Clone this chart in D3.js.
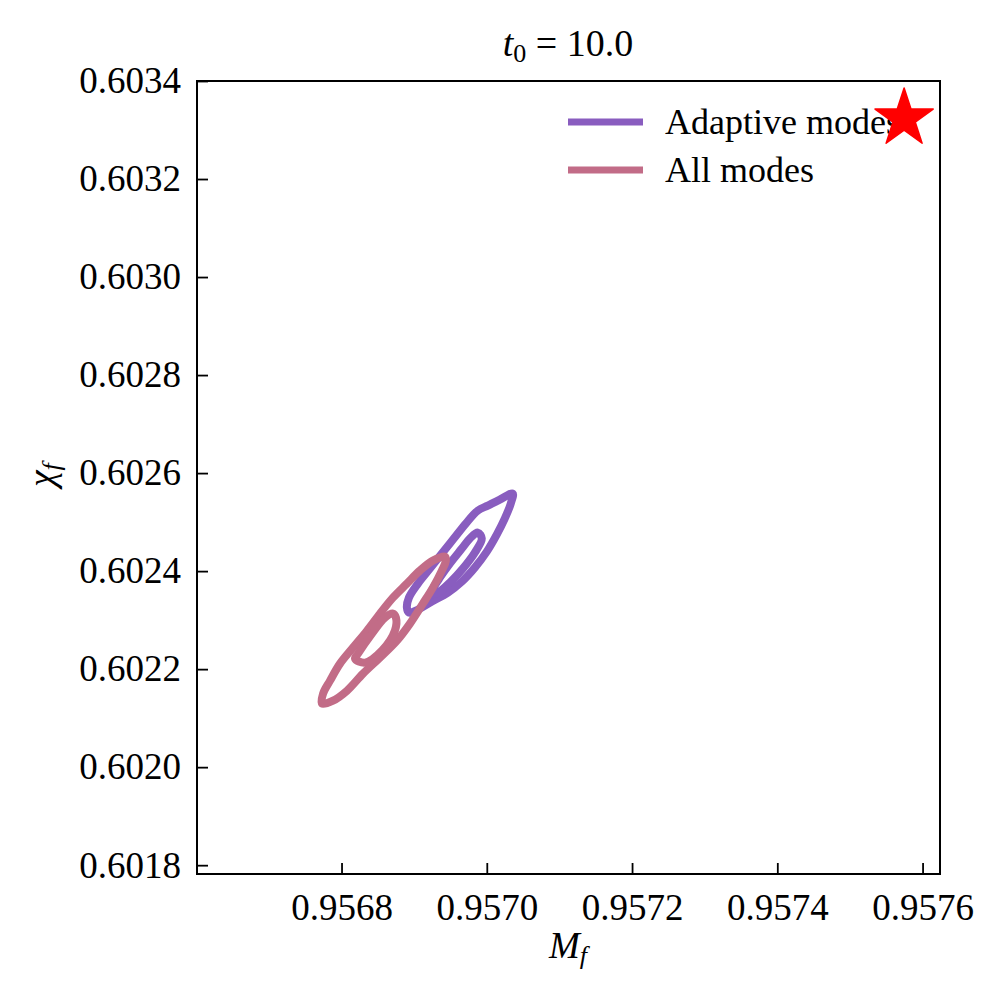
<!DOCTYPE html>
<html><head><meta charset="utf-8">
<script src="https://cdn.jsdelivr.net/npm/d3@7"></script>
<style>body{margin:0;background:#fff}svg{display:block}text{font-family:"Liberation Serif","Times New Roman",serif;fill:#000}</style>
</head><body><svg id="c" width="1001" height="1000"></svg>
<script>
const xTicks = [0.9568, 0.9570, 0.9572, 0.9574, 0.9576];
const yTicks = [0.6018, 0.6020, 0.6022, 0.6024, 0.6026, 0.6028, 0.6030, 0.6032, 0.6034];
const xDomain = [0.956601, 0.957624];
const yDomain = [0.601782, 0.6034];
const seriesNames = ["Adaptive modes", "All modes"];
const seriesColors = ["#895dbf", "#c26c87"];
// contour points [Mf, chi]
const adaptiveOuter = [
 [0.9570357,0.6025582],[0.9570179,0.6025459],[0.9570014,0.6025337],[0.9569876,0.6025235],[0.9569711,0.6024969],
 [0.9569546,0.6024663],[0.9569381,0.6024357],[0.9569217,0.6024051],[0.9569052,0.6023745],[0.9568928,0.6023459],
 [0.9568900,0.6023255],[0.9568928,0.6023153],[0.9569052,0.6023214],[0.9569244,0.6023378],[0.9569464,0.6023561],
 [0.9569656,0.6023786],[0.9569835,0.6024071],[0.9570000,0.6024398],[0.9570137,0.6024745],[0.9570247,0.6025071],
 [0.9570330,0.6025378]];
const adaptiveInner = [
 [0.9569876,0.6024786],[0.9569766,0.6024663],[0.9569656,0.6024459],[0.9569491,0.6024153],[0.9569354,0.6023867],
 [0.9569258,0.6023643],[0.9569230,0.6023541],[0.9569327,0.6023561],[0.9569491,0.6023765],[0.9569670,0.6024051],
 [0.9569835,0.6024378],[0.9569931,0.6024663]];
const allOuter = [
 [0.9569423,0.6024296],[0.9569258,0.6024214],[0.9569079,0.6024010],[0.9568900,0.6023745],[0.9568708,0.6023459],
 [0.9568529,0.6023133],[0.9568351,0.6022786],[0.9568158,0.6022439],[0.9567979,0.6022112],[0.9567842,0.6021765],
 [0.9567746,0.6021500],[0.9567732,0.6021296],[0.9567883,0.6021357],[0.9568076,0.6021561],[0.9568296,0.6021908],
 [0.9568529,0.6022235],[0.9568763,0.6022582],[0.9568942,0.6022929],[0.9569120,0.6023337],[0.9569258,0.6023663],
 [0.9569381,0.6024010],[0.9569437,0.6024214]];
const allInner = [
 [0.9568708,0.6023133],[0.9568598,0.6023051],[0.9568419,0.6022725],[0.9568227,0.6022316],[0.9568186,0.6022214],
 [0.9568323,0.6022133],[0.9568557,0.6022378],[0.9568735,0.6022786],[0.9568749,0.6023051]];
const truth = [0.9575746, 0.6033235];

const svg = d3.select("#c");
const L=197, R=940, T=81, B=874;
const x = d3.scaleLinear().domain(xDomain).range([L,R]);
const y = d3.scaleLinear().domain(yDomain).range([B,T]);

const line = d3.line().x(d=>x(d[0])).y(d=>y(d[1])).curve(d3.curveCatmullRomClosed.alpha(0.5));
const g = svg.append("g");
[[adaptiveOuter,0],[adaptiveInner,0],[allOuter,1],[allInner,1]].forEach(([pts,i])=>{
  g.append("path").attr("d",line(pts)).attr("fill","none").attr("stroke",seriesColors[i])
   .attr("stroke-width",8).attr("stroke-linejoin","round");
});

// axes
const xa = svg.append("g").attr("transform",`translate(0,${B})`)
  .call(d3.axisBottom(x).tickValues(xTicks).tickSize(-11).tickPadding(20).tickFormat(d3.format(".4f")));
const ya = svg.append("g").attr("transform",`translate(${L},0)`)
  .call(d3.axisLeft(y).tickValues(yTicks).tickSize(-11).tickPadding(16).tickFormat(d3.format(".4f")));
[xa,ya].forEach(a=>{a.select(".domain").remove();a.selectAll(".tick line").attr("stroke","#000").attr("stroke-width",1.8);
  a.selectAll(".tick text").attr("font-size",37).attr("font-family",'"Liberation Serif",serif').attr("fill","#000");});
xa.selectAll(".tick text").attr("dy","0.71em");
svg.append("rect").attr("x",L).attr("y",T).attr("width",R-L).attr("height",B-T)
  .attr("fill","none").attr("stroke","#000").attr("stroke-width",2);

// legend
const leg = svg.append("g");
seriesNames.forEach((n,i)=>{
  const yy = 122 + i*48;
  leg.append("line").attr("x1",568).attr("x2",643).attr("y1",yy).attr("y2",yy).attr("stroke",seriesColors[i]).attr("stroke-width",7);
  leg.append("text").attr("x",665).attr("y",yy).attr("dy","0.33em").attr("font-size",36).text(n);
});
// star (true value), drawn above legend
svg.append("path").attr("d",d3.symbol(d3.symbolStar,1050)())
  .attr("transform",`translate(${x(truth[0])},${y(truth[1])})`).attr("fill","red").attr("stroke","red").attr("stroke-width",1.5).attr("stroke-linejoin","round");

// title
const t = svg.append("text").attr("x",568).attr("y",56).attr("text-anchor","middle").attr("font-size",38);
t.append("tspan").attr("font-style","italic").text("t");
t.append("tspan").attr("font-size",26).attr("dy",6).text("0");
t.append("tspan").attr("dy",-6).text(" = 10.0");
// x label
const xl = svg.append("text").attr("x",568).attr("y",958).attr("text-anchor","middle").attr("font-size",37);
xl.append("tspan").attr("font-style","italic").text("M");
xl.append("tspan").attr("font-style","italic").attr("font-size",26).attr("dy",6).text("f");
// y label
const yl = svg.append("text").attr("transform","translate(54,475) rotate(-90)").attr("text-anchor","middle").attr("font-size",37);
yl.append("tspan").attr("font-style","italic").text("χ");
yl.append("tspan").attr("font-style","italic").attr("font-size",26).attr("dy",6).text("f");
</script></body></html>
